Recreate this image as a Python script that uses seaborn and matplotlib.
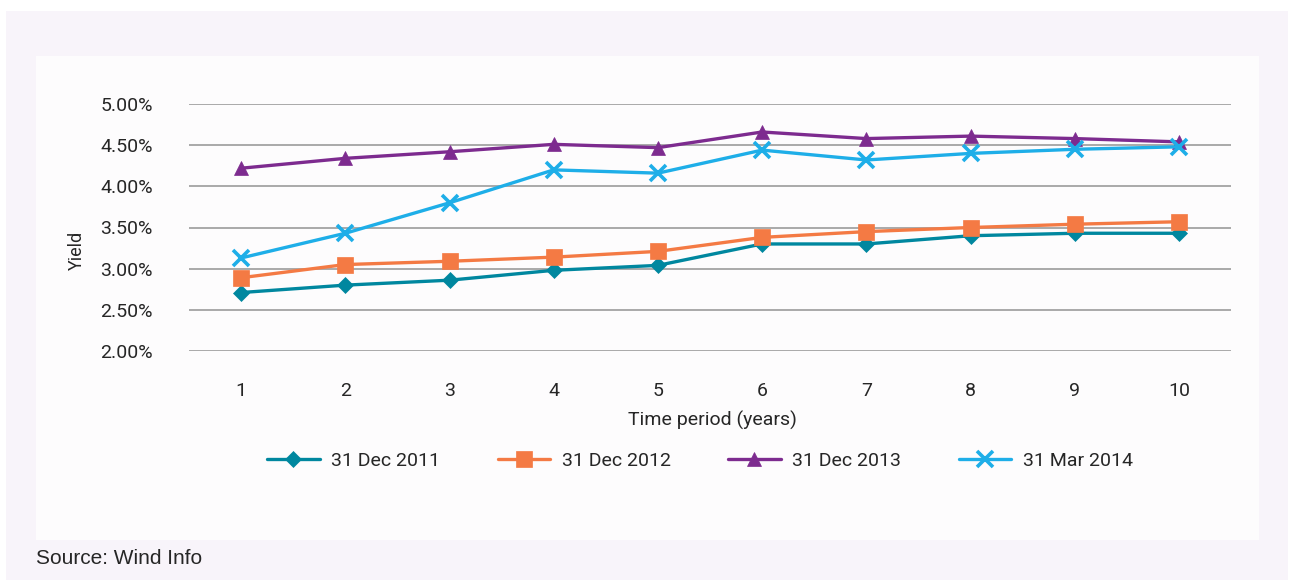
import matplotlib
matplotlib.use("Agg")
import matplotlib.pyplot as plt
from matplotlib import font_manager
from matplotlib.patches import Rectangle
from matplotlib.lines import Line2D
import seaborn as sns
import pandas as pd

# ---- data -------------------------------------------------------------
years = [1, 2, 3, 4, 5, 6, 7, 8, 9, 10]
series_names = ["31 Dec 2011", "31 Dec 2012", "31 Dec 2013", "31 Mar 2014"]
yield_2011 = [2.71, 2.80, 2.86, 2.98, 3.04, 3.30, 3.30, 3.40, 3.43, 3.43]
yield_2012 = [2.89, 3.05, 3.09, 3.14, 3.21, 3.38, 3.45, 3.50, 3.54, 3.57]
yield_2013 = [4.22, 4.34, 4.42, 4.51, 4.47, 4.66, 4.58, 4.61, 4.58, 4.54]
yield_2014 = [3.13, 3.43, 3.80, 4.20, 4.16, 4.44, 4.32, 4.40, 4.45, 4.48]
y_ticks = [2.0, 2.5, 3.0, 3.5, 4.0, 4.5, 5.0]

colors = ["#00879f", "#f47a44", "#7d2b8f", "#1eaee8"]
markers = ["D", "s", "^", "x"]
marker_sizes = [8, 12, 10, 11]

rows = []
for name, vals in zip(series_names, [yield_2011, yield_2012, yield_2013, yield_2014]):
    for yr, v in zip(years, vals):
        rows.append({"Year": yr, "Yield": v, "Series": name})
df = pd.DataFrame(rows)

# ---- fonts ------------------------------------------------------------
sns.set_theme(style="white")
available = {f.name for f in font_manager.fontManager.ttflist}
narrow = next((f for f in ["Liberation Sans Narrow", "Roboto", "DejaVu Sans"] if f in available), "DejaVu Sans")
plain = next((f for f in ["Liberation Sans", "Roboto", "DejaVu Sans"] if f in available), "DejaVu Sans")
plt.rcParams["font.family"] = [narrow, "DejaVu Sans"]

W, H = 1294, 580
fig = plt.figure(figsize=(W / 100, H / 100), dpi=100)
fig.patch.set_facecolor("white")


def px_rect(x0, y0, x1, y1, color):
    fig.patches.append(Rectangle((x0 / W, 1 - y1 / H), (x1 - x0) / W, (y1 - y0) / H,
                                 transform=fig.transFigure, facecolor=color,
                                 edgecolor="none", zorder=-10))


px_rect(6, 11, 1288, 580, "#f8f4fa")
px_rect(36, 56, 1259, 540, "#fdfcfd")

ax_l, ax_r, ax_t, ax_b = 189, 1231, 104, 351
ax = fig.add_axes([ax_l / W, 1 - ax_b / H, (ax_r - ax_l) / W, (ax_b - ax_t) / H])
ax.set_facecolor("none")

for name, c, m, ms in zip(series_names, colors, markers, marker_sizes):
    sub = df[df["Series"] == name]
    sns.lineplot(data=sub, x="Year", y="Yield", ax=ax, color=c, linewidth=2.4,
                 marker=m, markersize=ms, markeredgecolor=c,
                 markeredgewidth=2.6 if m == "x" else 0.5, legend=False, zorder=3)

ax.set_xlim(0.5, 10.5)
ax.set_ylim(2.0, 5.0)
ax.set_yticks(y_ticks)
ax.set_yticklabels([f"{v:.2f}%" for v in y_ticks])
ax.set_xticks(years)
ax.set_xticklabels([str(y) for y in years])
ax.grid(axis="y", color="#a3a3a3", linewidth=1.3)
ax.grid(axis="x", visible=False)
ax.set_axisbelow(True)
for s in ax.spines.values():
    s.set_visible(False)
ax.tick_params(axis="y", length=0, pad=26, labelsize=14, labelcolor="#262626")
ax.tick_params(axis="x", length=0, pad=22, labelsize=14, labelcolor="#262626")
ax.set_xlabel("")
ax.set_ylabel("")

fig.text(712 / W, 1 - 420 / H, "Time period (years)", ha="center", va="center",
         fontsize=14, color="#262626")
fig.text(77 / W, 1 - 250 / H, "Yield", ha="center", va="center", rotation=90,
         fontsize=13, color="#262626")

handles = [Line2D([0], [0], color=c, linewidth=2.4, marker=m, markersize=ms,
                  markeredgecolor=c, markeredgewidth=2.6 if m == "x" else 0.5)
           for c, m, ms in zip(colors, markers, marker_sizes)]
fig.legend(handles, series_names, loc="center", bbox_to_anchor=(700 / W, 1 - 461 / H),
           ncol=4, frameon=False, fontsize=14, handlelength=2.7, handletextpad=0.6,
           columnspacing=2.95, labelcolor="#262626")

fig.text(36 / W, 1 - 558 / H, "Source: Wind Info", ha="left", va="center",
         fontsize=15, color="#262626", family=[plain, "DejaVu Sans"])

fig.savefig("out.png", dpi=100, facecolor=fig.get_facecolor())
